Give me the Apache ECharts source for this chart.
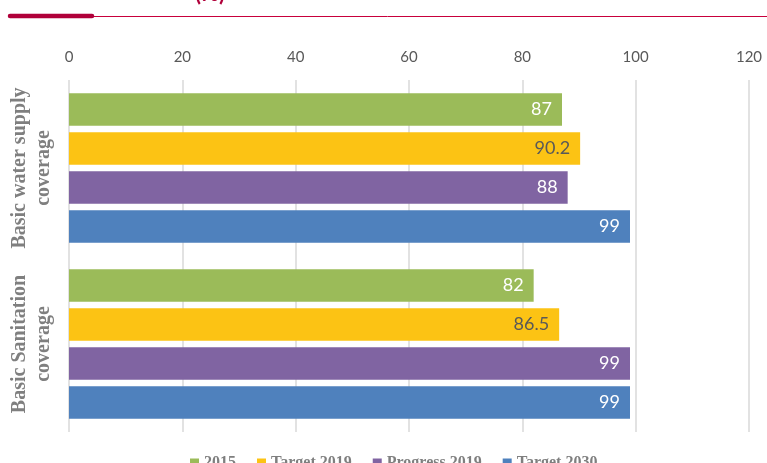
<!DOCTYPE html>
<html>
<head>
<meta charset="utf-8">
<script src="https://cdn.jsdelivr.net/npm/echarts@6/dist/echarts.min.js"></script>
<style>
  html, body { margin: 0; padding: 0; background: #fff; }
  #chart { width: 767px; height: 463px; }
</style>
</head>
<body>
<div id="chart"></div>
<script>
const categories = ['Basic water supply\ncoverage', 'Basic Sanitation\ncoverage'];
const seriesNames = ['2015', 'Target 2019', 'Progress 2019', 'Target 2030'];
const values2015 = [87, 82];
const target2019 = [90.2, 86.5];
const progress2019 = [88, 99];
const target2030 = [99, 99];
const xTicks = [0, 20, 40, 60, 80, 100, 120];

const colors = ['#9bbb59', '#fcc314', '#8064a2', '#4f81bd'];
const labelColors = ['#ffffff', '#595959', '#ffffff', '#ffffff'];
const allValues = [values2015, target2019, progress2019, target2030];

let chart = echarts.init(document.getElementById('chart'));

let series = seriesNames.map((name, i) => ({
  name: name,
  type: 'bar',
  data: allValues[i],
  itemStyle: { color: colors[i] },
  barGap: '20%',
  barCategoryGap: '15%',
  label: {
    show: true,
    position: 'insideRight',
    distance: 10,
    color: labelColors[i],
    fontFamily: 'Lato',
    fontSize: 18
  }
}));

let option = {
  animation: false,
  title: {
    text: '(%)',
    left: 190,
    top: -22,
    textStyle: { color: '#b0003a', fontSize: 22, fontWeight: 'bold', fontFamily: 'Lato' }
  },
  graphic: [
    { type: 'line', shape: { x1: 8, y1: 16.5, x2: 767, y2: 16.5 }, style: { stroke: '#c8003c', lineWidth: 1 } },
    { type: 'line', shape: { x1: 10, y1: 16, x2: 92, y2: 16 }, style: { stroke: '#b0003a', lineWidth: 4.5, lineCap: 'round' } }
  ],
  legend: {
    top: 450,
    left: 185,
    itemWidth: 9,
    itemHeight: 9,
    itemGap: 21,
    icon: 'rect',
    data: seriesNames,
    textStyle: { color: '#7f7f7f', fontFamily: 'Liberation Serif', fontWeight: 'bold', fontSize: 16 }
  },
  grid: { left: 69, right: 18, top: 80, bottom: 31 },
  xAxis: {
    type: 'value',
    position: 'top',
    min: xTicks[0],
    max: xTicks[xTicks.length - 1],
    interval: xTicks[1] - xTicks[0],
    axisLine: { show: false },
    axisTick: { show: false },
    axisLabel: { color: '#595959', fontFamily: 'Lato', fontSize: 15, margin: 15 },
    splitLine: { lineStyle: { color: '#d9d9d9', width: 1.5 } }
  },
  yAxis: {
    type: 'category',
    data: categories,
    inverse: true,
    axisLine: { show: false },
    axisTick: { show: false },
    axisLabel: {
      interval: 0,
      hideOverlap: false,
      rotate: 90,
      margin: 13,
      color: '#7f7f7f',
      fontFamily: 'Liberation Serif',
      fontWeight: 'bold',
      fontSize: 20,
      lineHeight: 24
    }
  },
  series: series
};

chart.setOption(option);
</script>
</body>
</html>
